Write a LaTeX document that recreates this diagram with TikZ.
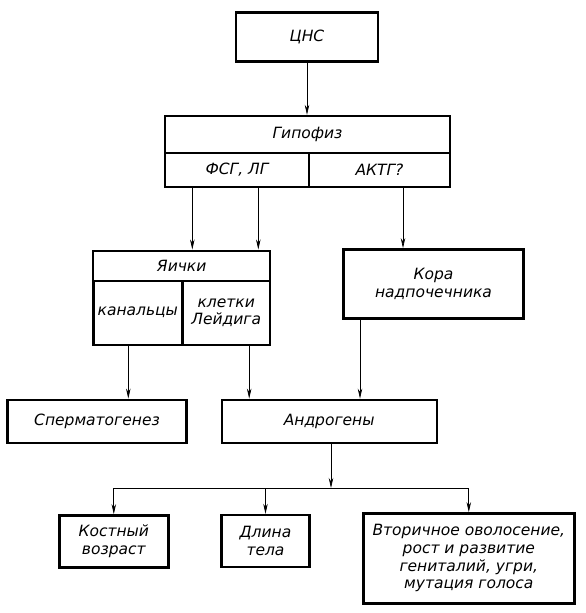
\documentclass[tikz,border=0pt]{standalone}
\usepackage{fontspec}
\setmainfont{DejaVu Sans}
\usetikzlibrary{positioning,arrows.meta}

\begin{document}
\begin{tikzpicture}[x=1pt, y=-1pt,
        every node/.style={font=\fontsize{15.5}{17.7}\selectfont\itshape, inner sep=2pt},
        block/.style={draw=black, line width=2.4pt, rectangle, align=center},
        arr/.style={-{Stealth[length=10pt,width=4.5pt]}, line width=0.7pt},
        line/.style={line width=0.7pt}]
    \useasboundingbox (0,0) rectangle (586,613);

    % CNS and pituitary
    \node (cns) [block, minimum width=142pt, minimum height=49pt] at (307,37) {ЦНС};
    \node (hyp) [block, minimum width=285pt, minimum height=37pt] at (307.5,134.5) {Гипофиз};
    \node (fsg) [block, minimum width=144pt, minimum height=34pt] at (237,170) {ФСГ, ЛГ};
    \node (aktg) [block, minimum width=141pt, minimum height=34pt] at (379.5,170) {АКТГ?};

    % glands
    \node (testes) [block, minimum width=177pt, minimum height=30pt] at (181.7,265.7) {Яички};
    \node (tubules) [block, minimum width=89pt, minimum height=64pt] at (137.8,312.7) {канальцы};
    \node (leydig) [block, minimum width=88pt, minimum height=64pt] at (226.2,312.7) {клетки\\Лейдига};
    \node (cortex) [block, minimum width=180pt, minimum height=69pt] at (433.5,283.8) {Кора\\надпочечника};

    % products
    \node (sperm) [block, minimum width=179pt, minimum height=43pt] at (97,421.3) {Сперматогенез};
    \node (andro) [block, minimum width=215pt, minimum height=43pt] at (329.2,421.3) {Андрогены};

    % effects
    \node (bone) [block, minimum width=109pt, minimum height=52pt] at (113.8,541.3) {Костный\\возраст};
    \node (length) [block, minimum width=88pt, minimum height=52pt] at (265.5,541) {Длина\\тела};
    \node (second) [block, minimum width=211pt, minimum height=90pt] at (468.8,558.3) {Вторичное оволосение,\\рост и развитие\\гениталий, угри,\\мутация голоса};

    \coordinate (fork) at ([xshift=1.8pt, yshift=-44pt]andro.south);

    \draw[arr] (cns.south) -- (cns.south |- hyp.north);
    \draw[arr] ([xshift=-44.7pt]fsg.south) -- ([xshift=-44.7pt]fsg.south |- testes.north);
    \draw[arr] ([xshift=21.3pt]fsg.south) -- ([xshift=21.3pt]fsg.south |- testes.north);
    \draw[arr] ([xshift=23.5pt]aktg.south) -- ([xshift=23.5pt]aktg.south |- cortex.north);
    \draw[arr] ([xshift=-9.5pt]tubules.south) -- ([xshift=-9.5pt]tubules.south |- sperm.north);
    \draw[arr] ([xshift=23pt]leydig.south) -- ([xshift=23pt]leydig.south |- andro.north);
    \draw[arr] ([xshift=-73.5pt]cortex.south) -- ([xshift=-73.5pt]cortex.south |- andro.north);
    \draw[arr] (fork |- andro.south) -- (fork);
    \draw[line] (fork -| bone.north) -- (fork -| second.north);
    \draw[arr] (fork -| bone.north) -- (bone.north);
    \draw[arr] (fork -| length.north) -- (length.north);
    \draw[arr] (fork -| second.north) -- (second.north);
\end{tikzpicture}
\end{document}
